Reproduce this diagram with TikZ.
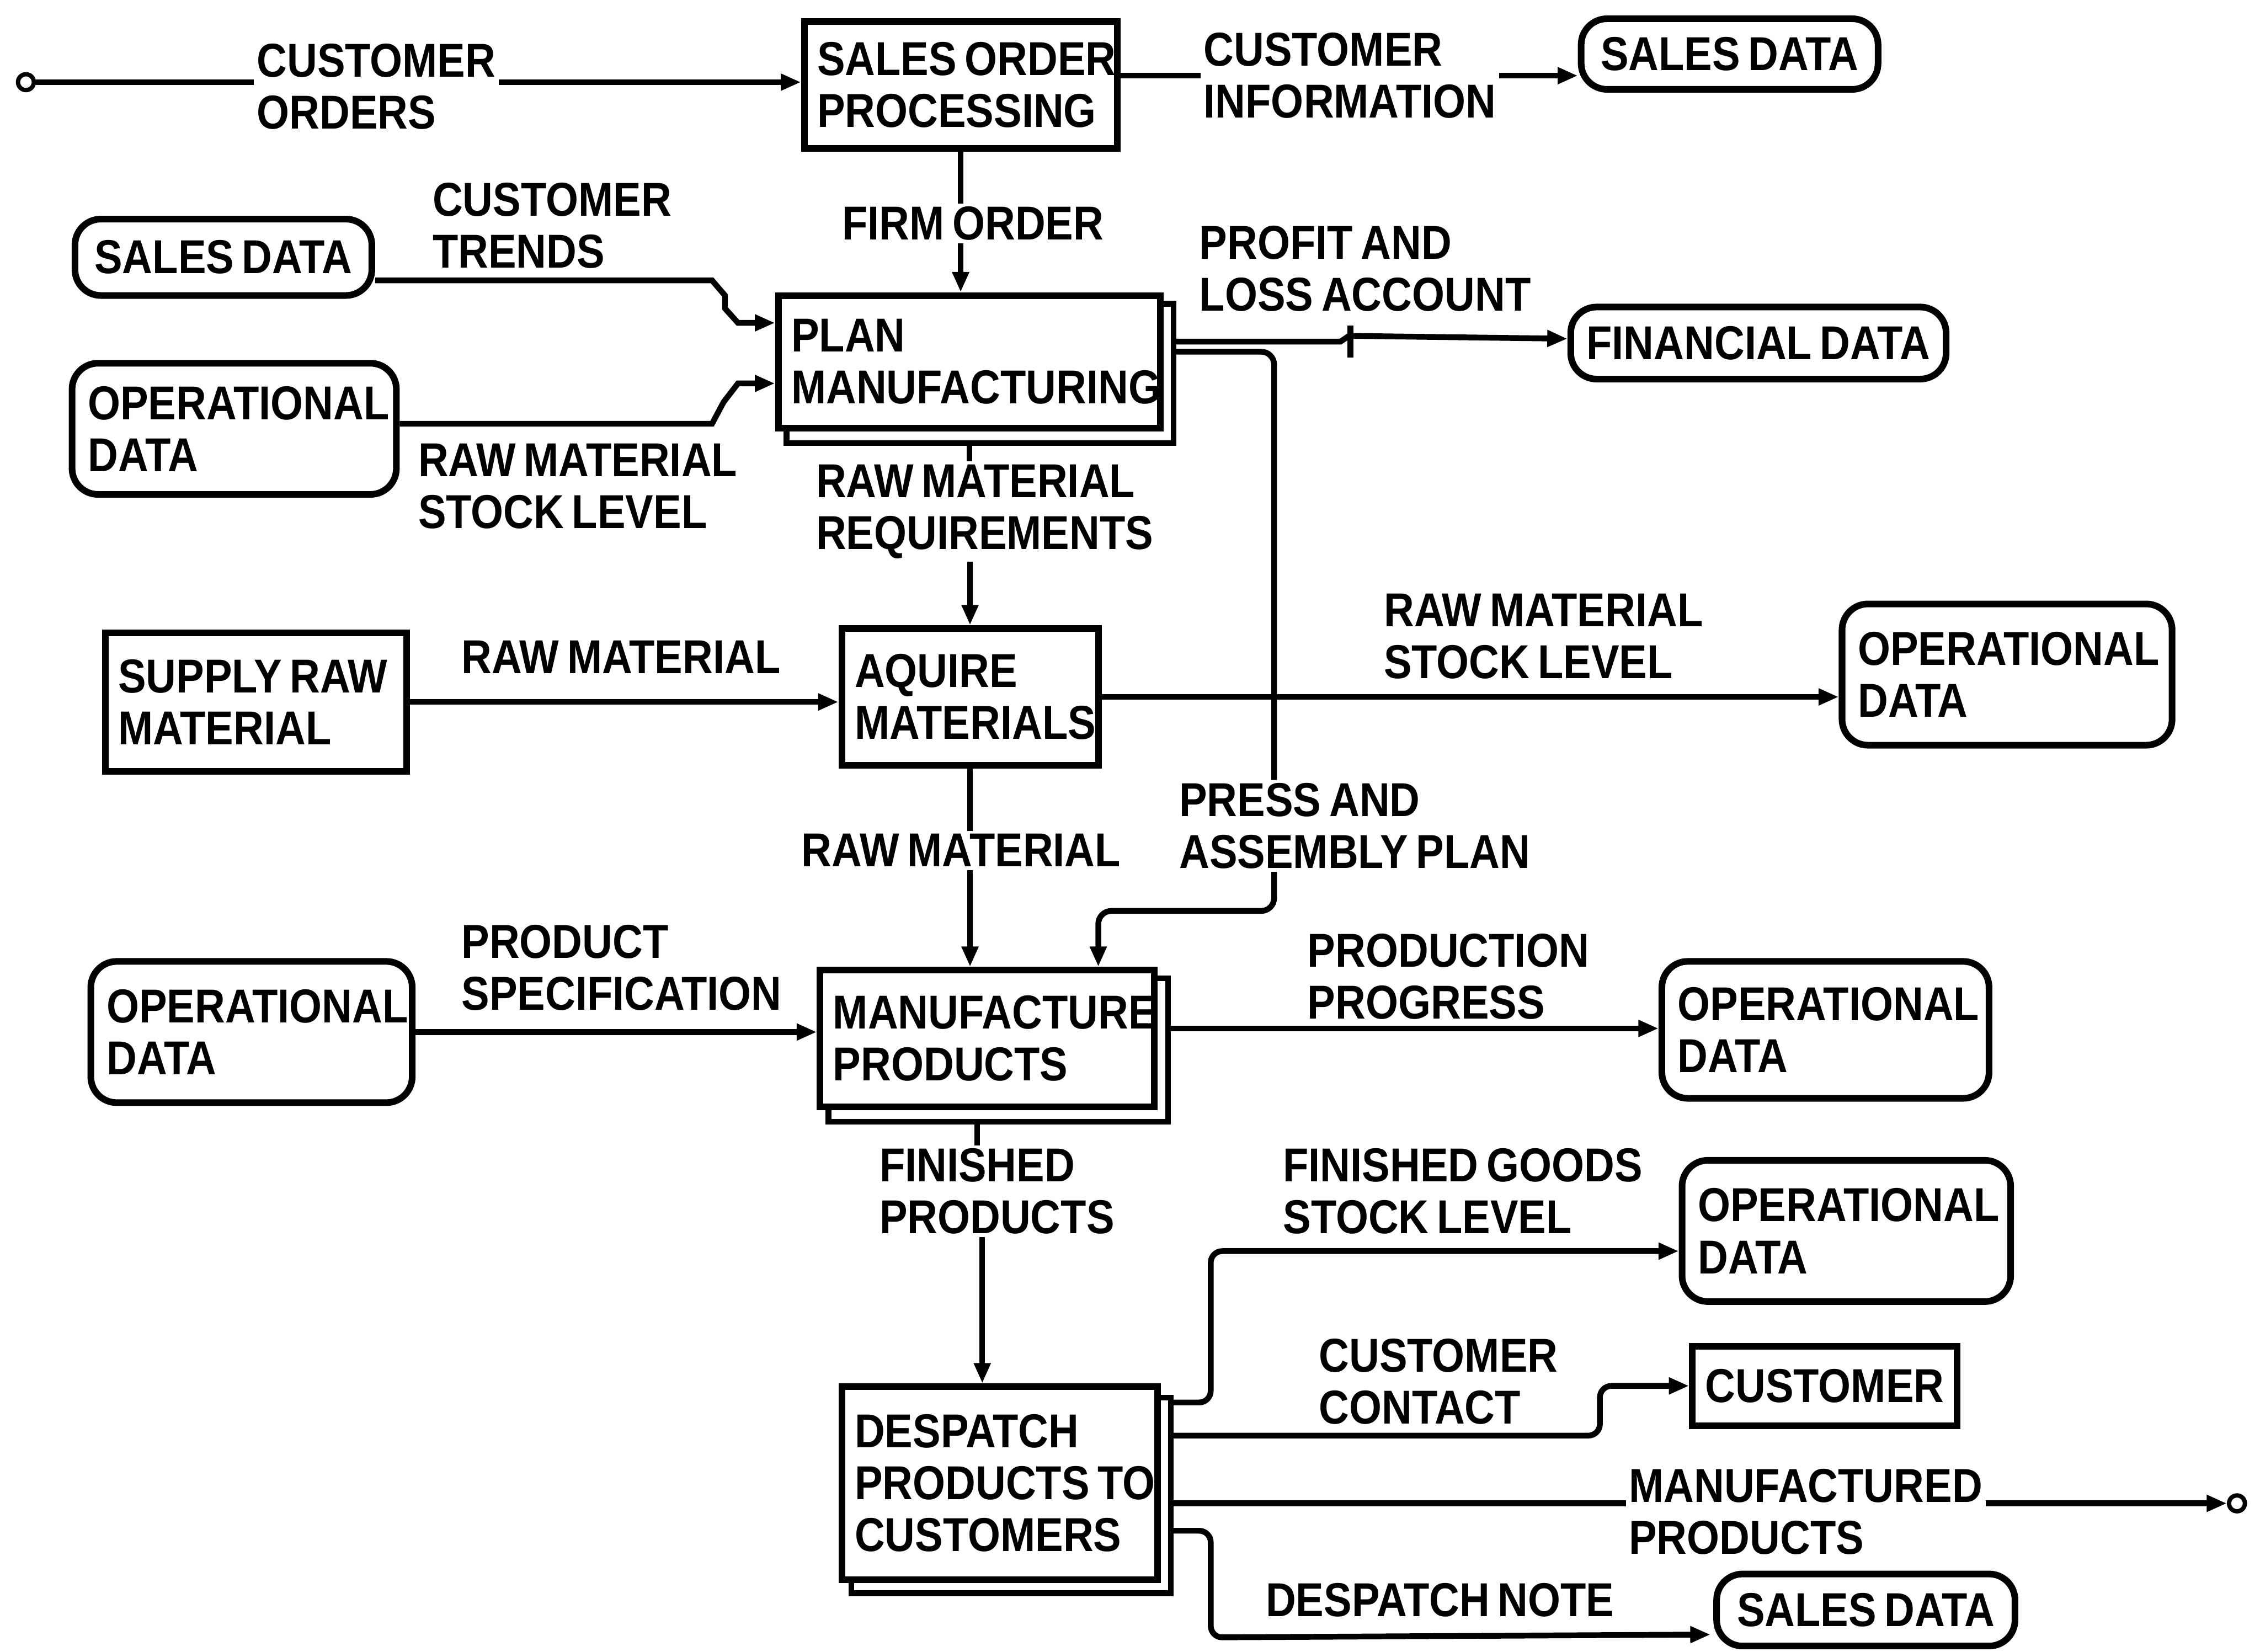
\documentclass[tikz,border=0pt]{standalone}
\usepackage{fontspec}
\setmainfont{Liberation Sans}[FakeStretch=0.88, WordSpace=0.7]
\usetikzlibrary{arrows.meta,calc}
\begin{document}
\begin{tikzpicture}[x=1pt,y=-1pt,
  every node/.style={font=\bfseries\fontsize{33}{36}\selectfont},
  proc/.style={draw, line width=4.6pt, align=left, inner xsep=9pt, inner ysep=0pt,
    execute at begin node={\spaceskip=0pt\relax}},
  store/.style={draw, line width=4.6pt, rounded corners=18pt, inner xsep=11pt, inner ysep=0pt,
    execute at begin node={\spaceskip=0pt\relax}},
  lab/.style={align=left, inner sep=2pt},
  flow/.style={line width=4pt},
  arr/.style={flow, -{Triangle[length=14pt,width=11pt]}},
  term/.style={circle, draw, line width=3pt, minimum size=11pt, inner sep=0pt},
  shadowline/.style={line width=4pt}
]
\useasboundingbox (0,0) rectangle (1568,1146);

% processes
\node[proc, text width=199pt, minimum height=88pt] (sop) at (666.5,59) {\mbox{SALES ORDER}\\\mbox{PROCESSING}};
\node[proc, text width=247pt, minimum height=92pt] (plan) at (672.5,251) {\mbox{PLAN}\\\mbox{MANUFACTURING}};
\node[proc, text width=160pt, minimum height=95pt] (acq) at (673,483.5) {\mbox{AQUIRE}\\\mbox{MATERIALS}};
\node[proc, text width=214pt, minimum height=95pt] (manuf) at (685,720.5) {\mbox{MANUFACTURE}\\\mbox{PRODUCTS}};
\node[proc, text width=201pt, minimum height=134pt] (desp) at (693.5,1029) {\mbox{DESPATCH}\\\mbox{PRODUCTS TO}\\\mbox{CUSTOMERS}};

% external entities
\node[proc, text width=191pt, minimum height=96pt] (supply) at (177.5,487) {\mbox{SUPPLY RAW}\\\mbox{MATERIAL}};
\node[proc, align=center, minimum width=178pt, minimum height=55pt] (cust) at (1266,961.5) {CUSTOMER};

% second outline of the decomposed processes
\draw[shadowline] ([xshift=8pt]plan.south west) -- ++(0,8) -| ([xshift=7pt,yshift=-8pt]plan.north east) -- ([yshift=-8pt]plan.north east);
\draw[shadowline] ([xshift=8pt]manuf.south west) -- ++(0,8) -| ([xshift=7pt,yshift=-8pt]manuf.north east) -- ([yshift=-8pt]manuf.north east);
\draw[shadowline] ([xshift=9pt]desp.south west) -- ++(0,7) -| ([xshift=7pt,yshift=-10pt]desp.north east) -- ([yshift=-10pt]desp.north east);

% data stores
\node[store, minimum width=206pt, minimum height=49pt] (sd1) at (1200,37.5) {SALES DATA};
\node[store, minimum width=206pt, minimum height=53pt] (sd2) at (155,178.5) {SALES DATA};
\node[store, align=left, text width=203pt, minimum height=91pt] (od1) at (162.5,297.5) {\mbox{OPERATIONAL}\\DATA};
\node[store, minimum width=260pt, minimum height=50pt] (fd) at (1220,238) {FINANCIAL DATA};
\node[store, align=left, text width=207pt, minimum height=98pt] (od2) at (1392.5,468) {\mbox{OPERATIONAL}\\DATA};
\node[store, align=left, text width=201pt, minimum height=98pt] (od3) at (174.5,716) {\mbox{OPERATIONAL}\\DATA};
\node[store, align=left, text width=205pt, minimum height=95pt] (od4) at (1266.5,714.5) {\mbox{OPERATIONAL}\\DATA};
\node[store, align=left, text width=206pt, minimum height=98pt] (od5) at (1281,854) {\mbox{OPERATIONAL}\\DATA};
\node[store, minimum width=207pt, minimum height=50pt] (sd3) at (1294.5,1117) {SALES DATA};

% terminators
\node[term] (start) at (18,57) {};
\node[term] (endc) at (1552,1043) {};

% flow labels
\node[lab, anchor=west] (co) at (176,60) {CUSTOMER\\ORDERS};
\node[lab, anchor=west] (ci) at (833,52.5) {CUSTOMER\\INFORMATION};
\node[lab] (fo) at (675,155) {FIRM ORDER};
\node[lab, anchor=west] (ct) at (298,156.5) {CUSTOMER\\TRENDS};
\node[lab, anchor=west] (pl) at (830,186.5) {PROFIT AND\\LOSS ACCOUNT};
\node[lab, anchor=west] (rs1) at (288,337.5) {RAW MATERIAL\\STOCK LEVEL};
\node[lab, anchor=west] (rmr) at (564,355) {RAW MATERIAL\\REQUIREMENTS};
\node[lab, anchor=west] (rm1) at (318,456) {RAW MATERIAL};
\node[lab, anchor=west] (rs2) at (958,441.5) {RAW MATERIAL\\STOCK LEVEL};
\node[lab, anchor=west] (rm2) at (554,590) {RAW MATERIAL};
\node[lab, anchor=west] (pa) at (816,573) {PRESS AND\\ASSEMBLY PLAN};
\node[lab, anchor=west] (ps) at (318,671.5) {PRODUCT\\SPECIFICATION};
\node[lab, anchor=west] (pp) at (905,677.5) {PRODUCTION\\PROGRESS};
\node[lab, anchor=west] (fp) at (608,826.5) {FINISHED\\PRODUCTS};
\node[lab, anchor=west] (fg) at (888,826.5) {FINISHED GOODS\\STOCK LEVEL};
\node[lab, anchor=west] (cc) at (913,958.5) {CUSTOMER\\CONTACT};
\node[lab, anchor=west] (mp) at (1128,1049) {MANUFACTURED\\PRODUCTS};
\node[lab, anchor=west] (dn) at (876,1110) {DESPATCH NOTE};

% customer orders
\draw[flow] (start) -- (start -| co.west);
\draw[arr] (start -| co.east) -- (start -| sop.west);
% customer information
\draw[flow] (sop.east |- ci.west) -- (ci.west);
\draw[arr] (ci.east) -- (ci.east -| sd1.west);
% firm order
\draw[flow] (sop.south) -- (sop.south |- fo.north);
\draw[arr] (sop.south |- fo.south) -- (sop.south |- plan.north);
% customer trends
\draw[arr] ($(sd2.east)+(0,16)$) -- (494,194.5) -- (503,205) -- (503,214) -- (512,224) -- ($(plan.west)+(0,-27)$);
% raw material stock level into planning
\draw[arr] ($(od1.east)+(0,-3.5)$) -- (494,294) -- (502,279) -- (512,266) -- ($(plan.west)+(0,15)$);
% profit and loss account
\draw[arr] ($(plan.east)+(7,-14)$) -- (930,237) -- (936,233) -- ($(fd.west)+(0,-3)$);
\draw[flow] (937,226) -- (937,248);
% press and assembly plan, broken by its label
\coordinate (pv) at (884,244);
\draw[flow, rounded corners=9pt] ($(plan.east)+(7,-7)$) -- (pv) -- (pv |- pa.north);
\draw[arr, rounded corners=9pt] (pv |- pa.south) -- (884,632) -- (762,632) -- ($(manuf.north)+(77,0)$);
% raw material requirements
\draw[flow] ($(plan.south)+(0,8)$) -- (plan.south |- rmr.north);
\draw[arr] (acq.north |- rmr.south) -- (acq.north);
% raw material supply
\draw[arr] (supply.east) -- (supply.east -| acq.west);
% raw material stock level out
\draw[arr] (acq.east) -- (acq.east -| od2.west);
% raw material to manufacture
\draw[flow] (acq.south) -- (acq.south |- rm2.north);
\draw[arr] (acq.south |- rm2.south) -- (acq.south |- manuf.north);
% product specification
\draw[arr] (od3.east) -- (od3.east -| manuf.west);
% production progress
\coordinate (m4) at ($(manuf.east)+(7,-7)$);
\draw[arr] (m4) -- (m4 -| od4.west);
% finished products
\coordinate (f1) at ($(manuf.south)+(-7,8)$);
\draw[flow] (f1) -- (f1 |- fp.north);
\coordinate (f2) at ($(desp.north)+(-12,0)$);
\draw[arr] (f2 |- fp.south) -- (f2);
% despatch outputs
\coordinate (d1) at ($(desp.east)+(8,-56)$);
\draw[arr, rounded corners=8pt] (d1) -- (840,973) -- (840,868) -- ($(od5.west)+(0,14)$);
\coordinate (d2) at ($(desp.east)+(8,-33)$);
\draw[arr, rounded corners=8pt] (d2) -- (1110,996) -- (1110,961.5) -- (cust.west);
\coordinate (d3) at ($(desp.east)+(8,14)$);
\draw[flow] (d3) -- (d3 -| mp.west);
\draw[arr] (d3 -| mp.east) -- (endc.west);
\coordinate (d4) at ($(desp.east)+(8,33)$);
\draw[arr, rounded corners=8pt] (d4) -- (840,1062) -- (840,1136) -- ($(sd3.west)+(-2,17)$);
\end{tikzpicture}
\end{document}
